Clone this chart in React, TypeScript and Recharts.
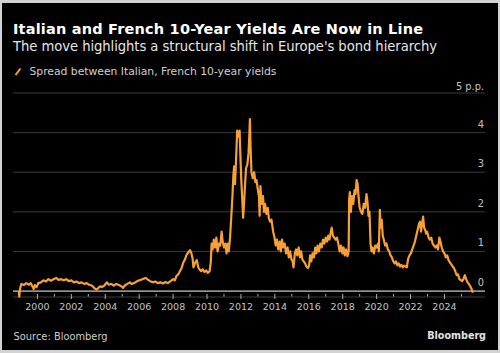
import React from "react";
import { LineChart, Line, XAxis, YAxis, CartesianGrid, ReferenceLine } from "recharts";

const title = "Italian and French 10-Year Yields Are Now in Line";
const subtitle = "The move highlights a structural shift in Europe's bond hierarchy";
const seriesName = "Spread between Italian, French 10-year yields";
const sourceText = "Source: Bloomberg";
const brand = "Bloomberg";

const yTicks = [0, 1, 2, 3, 4, 5];
const xTicks = [2000, 2001, 2002, 2003, 2004, 2005, 2006, 2007, 2008, 2009, 2010, 2011, 2012, 2013, 2014, 2015, 2016, 2017, 2018, 2019, 2020, 2021, 2022, 2023, 2024, 2025];

const dates = [
  1998.9, 1998.93, 1998.97, 1999.05, 1999.2, 1999.35, 1999.5, 1999.6, 1999.7, 1999.78, 1999.85, 1999.95,
  2000.05, 2000.2, 2000.35, 2000.5, 2000.65, 2000.8, 2000.95, 2001.1, 2001.25, 2001.4, 2001.55, 2001.7, 2001.85,
  2002.0, 2002.15, 2002.3, 2002.45, 2002.6, 2002.75, 2002.9, 2003.05, 2003.2, 2003.3, 2003.4, 2003.5, 2003.6, 2003.7, 2003.8, 2003.95,
  2004.05, 2004.1, 2004.2, 2004.35, 2004.5, 2004.65, 2004.8, 2004.95, 2005.05, 2005.15, 2005.3, 2005.45, 2005.55, 2005.7, 2005.85,
  2006.0, 2006.15, 2006.3, 2006.4, 2006.5, 2006.65, 2006.8, 2006.95, 2007.1, 2007.25, 2007.4, 2007.55, 2007.7, 2007.85,
  2008.0, 2008.1, 2008.2, 2008.3, 2008.4, 2008.5, 2008.6, 2008.7, 2008.8, 2008.9, 2009.0, 2009.08, 2009.15, 2009.2, 2009.3, 2009.4, 2009.48, 2009.55, 2009.65, 2009.75, 2009.85, 2009.95,
  2010.05, 2010.15, 2010.22, 2010.27, 2010.33, 2010.4, 2010.48, 2010.55, 2010.62, 2010.7, 2010.78, 2010.86, 2010.92,
  2011.0, 2011.08, 2011.15, 2011.22, 2011.28, 2011.35, 2011.42, 2011.5, 2011.55, 2011.6, 2011.65, 2011.7, 2011.78, 2011.85, 2011.92, 2011.97,
  2012.02, 2012.08, 2012.13, 2012.18, 2012.23, 2012.3, 2012.38, 2012.45, 2012.5, 2012.53, 2012.57, 2012.62, 2012.7, 2012.78, 2012.85, 2012.92,
  2013.0, 2013.06, 2013.1, 2013.15, 2013.22, 2013.3, 2013.36, 2013.42, 2013.5, 2013.58, 2013.64, 2013.72, 2013.8, 2013.9, 2013.98,
  2014.05, 2014.12, 2014.2, 2014.28, 2014.35, 2014.42, 2014.5, 2014.58, 2014.66, 2014.75, 2014.82, 2014.9, 2014.98,
  2015.05, 2015.1, 2015.18, 2015.25, 2015.32, 2015.4, 2015.48, 2015.55, 2015.62, 2015.7, 2015.78, 2015.86, 2015.95,
  2016.02, 2016.08, 2016.15, 2016.22, 2016.3, 2016.38, 2016.45, 2016.52, 2016.6, 2016.68, 2016.76, 2016.84, 2016.92,
  2017.0, 2017.08, 2017.15, 2017.22, 2017.3, 2017.35, 2017.42, 2017.5, 2017.58, 2017.66, 2017.74, 2017.82, 2017.9, 2017.98,
  2018.05, 2018.12, 2018.2, 2018.28, 2018.35, 2018.38, 2018.42, 2018.48, 2018.55, 2018.62, 2018.7, 2018.76, 2018.82, 2018.88, 2018.94,
  2019.0, 2019.08, 2019.16, 2019.24, 2019.32, 2019.4, 2019.46, 2019.52, 2019.58, 2019.64, 2019.7, 2019.76, 2019.84, 2019.92,
  2020.0, 2020.08, 2020.13, 2020.19, 2020.24, 2020.3, 2020.36, 2020.42, 2020.5, 2020.58, 2020.66, 2020.74, 2020.82, 2020.9, 2020.98,
  2021.06, 2021.14, 2021.22, 2021.3, 2021.38, 2021.46, 2021.54, 2021.62, 2021.7, 2021.78, 2021.86, 2021.94,
  2022.02, 2022.1, 2022.18, 2022.26, 2022.34, 2022.42, 2022.5, 2022.56, 2022.62, 2022.68, 2022.74, 2022.8, 2022.86, 2022.92, 2022.98,
  2023.06, 2023.14, 2023.22, 2023.3, 2023.38, 2023.46, 2023.54, 2023.62, 2023.7, 2023.76, 2023.84, 2023.92,
  2024.0, 2024.08, 2024.16, 2024.24, 2024.32, 2024.4, 2024.48, 2024.56, 2024.64, 2024.72, 2024.8, 2024.88, 2024.96,
  2025.04, 2025.12, 2025.2, 2025.28, 2025.36, 2025.44, 2025.52, 2025.6, 2025.68,
];

const spread = [
  0.0, -0.14, 0.05, 0.18, 0.15, 0.2, 0.16, 0.2, 0.12, 0.05, 0.15, 0.1,
  0.2, 0.22, 0.27, 0.24, 0.3, 0.26, 0.3, 0.33, 0.28, 0.3, 0.27, 0.3, 0.25,
  0.27, 0.22, 0.24, 0.2, 0.22, 0.18, 0.2, 0.16, 0.14, 0.1, 0.06, 0.04, 0.08, 0.12, 0.1, 0.14,
  0.2, 0.22, 0.16, 0.18, 0.14, 0.18, 0.15, 0.12, 0.08, 0.14, 0.18, 0.22, 0.18, 0.2, 0.24,
  0.27, 0.29, 0.32, 0.33, 0.29, 0.25, 0.22, 0.24, 0.2, 0.22, 0.19, 0.23, 0.2, 0.25,
  0.3, 0.27, 0.38, 0.42, 0.5, 0.58, 0.72, 0.8, 0.92, 0.98, 1.03, 0.95, 0.82, 0.6, 0.72, 0.78, 0.6, 0.55, 0.5, 0.55, 0.48, 0.52,
  0.46, 0.5, 0.72, 1.2, 1.05, 1.3, 1.1, 1.35, 1.0, 1.2, 1.15, 1.5, 1.25,
  1.1, 1.2, 0.95, 1.2, 1.0, 1.3, 1.8, 2.4, 2.9, 3.15, 2.7, 3.2, 4.05, 3.9, 4.05, 3.4,
  2.8, 2.3, 1.85, 2.2, 2.6, 3.1, 3.2, 3.5, 4.0, 4.34, 3.6, 3.0, 2.85, 3.0, 2.75, 2.8,
  2.55, 2.4, 1.9, 2.65, 2.2, 2.4, 2.0, 2.2, 1.95, 2.1, 1.85, 1.75, 1.8, 1.5, 1.35,
  1.15, 1.3, 1.05, 1.25, 1.0, 1.3, 1.1, 1.2, 0.95, 1.1, 0.85, 1.0, 0.8,
  0.75, 0.6, 0.95, 1.05, 0.9, 1.1, 0.85, 1.0, 0.8, 0.75, 0.7, 0.62, 0.58,
  0.65, 0.9, 0.75, 0.95, 0.85, 1.1, 0.95, 1.15, 1.0, 1.2, 1.1, 1.3, 1.2,
  1.35, 1.25, 1.4, 1.3, 1.5, 1.6, 1.4, 1.35, 1.3, 1.35, 1.2, 1.0, 1.15, 0.95,
  1.1, 0.9, 1.05, 0.88, 1.0, 2.3, 2.5, 2.0, 2.4, 2.2, 2.55, 2.45, 2.8, 2.7, 2.35,
  2.1, 2.0, 1.95, 2.2, 2.1, 2.45, 2.25, 1.9, 2.0, 1.2, 1.0, 1.1, 0.95, 1.15,
  1.1, 1.2, 1.0, 2.05, 1.6, 1.8, 1.4, 1.3, 1.15, 1.2, 1.05, 1.0, 0.9, 0.85, 0.75,
  0.7, 0.75, 0.65, 0.7, 0.62, 0.66, 0.6, 0.64, 0.62, 0.6, 0.82, 0.9,
  0.95, 1.05, 1.15, 1.25, 1.4, 1.55, 1.7, 1.75, 1.5, 1.7, 1.88, 1.6, 1.55, 1.45, 1.5,
  1.35, 1.3, 1.35, 1.2, 1.15, 1.1, 1.15, 1.05, 1.35, 1.25, 1.1, 1.0,
  0.95, 0.85, 0.9, 0.78, 0.72, 0.68, 0.62, 0.58, 0.5, 0.4, 0.42, 0.3, 0.28,
  0.25, 0.3, 0.4, 0.3, 0.22, 0.18, 0.12, 0.05, -0.04,
];

const data = dates.map((d, i) => ({ year: d, spread: spread[i] }));

const FONT = "'DejaVu Sans', Verdana, sans-serif";
const ORANGE = "#f7a035";

const XTick = (props: any) => {
  const { x, payload } = props;
  const v = payload.value as number;
  const major = v % 2 === 0;
  return (
    <g>
      <line x1={x} x2={x} y1={294} y2={major ? 299 : 296.5} stroke="#b0b0b0" strokeWidth={1} />
      {major && (
        <text x={x} y={310} textAnchor="middle" fontFamily={FONT} fontSize={9.5} fill="#c4c4c4">
          {v}
        </text>
      )}
    </g>
  );
};

const YTick = (props: any) => {
  const { y, payload } = props;
  const v = payload.value as number;
  return (
    <text x={484} y={v === 5 ? y - 3 : y - 5} textAnchor="end" fontFamily={FONT} fontSize={9.8} fill="#c4c4c4">
      {v === 5 ? "5 p.p." : String(v)}
    </text>
  );
};

export default function App() {
  return (
    <div style={{ position: "absolute", left: 0, top: 0, width: 500, height: 353, background: "#d2d2d2" }}>
      <div style={{ position: "absolute", left: 2, top: 3, width: 495.5, height: 347, background: "#000" }} />
      <div style={{ position: "absolute", left: 0, top: 0 }}>
        <LineChart width={500} height={353} data={data} margin={{ top: 93, right: 14, bottom: 36, left: 13 }}>
          <CartesianGrid vertical={false} stroke="#3a3a3a" strokeWidth={1} />
          <XAxis
            dataKey="year"
            type="number"
            domain={[1998.56, 2026.39]}
            ticks={xTicks}
            interval={0}
            height={20}
            axisLine={false}
            tickLine={false}
            tick={<XTick />}
          />
          <YAxis
            type="number"
            domain={[-0.15, 5]}
            ticks={yTicks}
            interval={0}
            orientation="right"
            width={1}
            axisLine={false}
            tickLine={false}
            tick={<YTick />}
          />
          <ReferenceLine y={0} stroke="#b8b8b8" strokeWidth={1.3} />
          <Line
            type="linear"
            dataKey="spread"
            stroke={ORANGE}
            strokeWidth={2.2}
            strokeLinejoin="round"
            dot={false}
            isAnimationActive={false}
          />
        </LineChart>
      </div>
      <svg width={500} height={353} style={{ position: "absolute", left: 0, top: 0, pointerEvents: "none" }}>
        <text x={13} y={34.3} fontFamily={FONT} fontWeight="bold" fontSize={14.5} fill="#ffffff" textLength={410}>
          {title}
        </text>
        <text x={13} y={50.5} fontFamily={FONT} fontSize={13.2} fill="#e6e6e6" textLength={424}>
          {subtitle}
        </text>
        <line x1={15.5} y1={75} x2={20.5} y2={68.5} stroke={ORANGE} strokeWidth={2} />
        <text x={29.5} y={75} fontFamily={FONT} fontSize={10.8} fill="#d0d0d0" textLength={247}>
          {seriesName}
        </text>
        <text x={13.5} y={340} fontFamily={FONT} fontSize={9.8} fill="#cfcfcf" textLength={94}>
          {sourceText}
        </text>
        <text x={486} y={339} textAnchor="end" fontFamily={FONT} fontWeight="bold" fontSize={9.6} fill="#e4e4e4">
          {brand}
        </text>
      </svg>
    </div>
  );
}
